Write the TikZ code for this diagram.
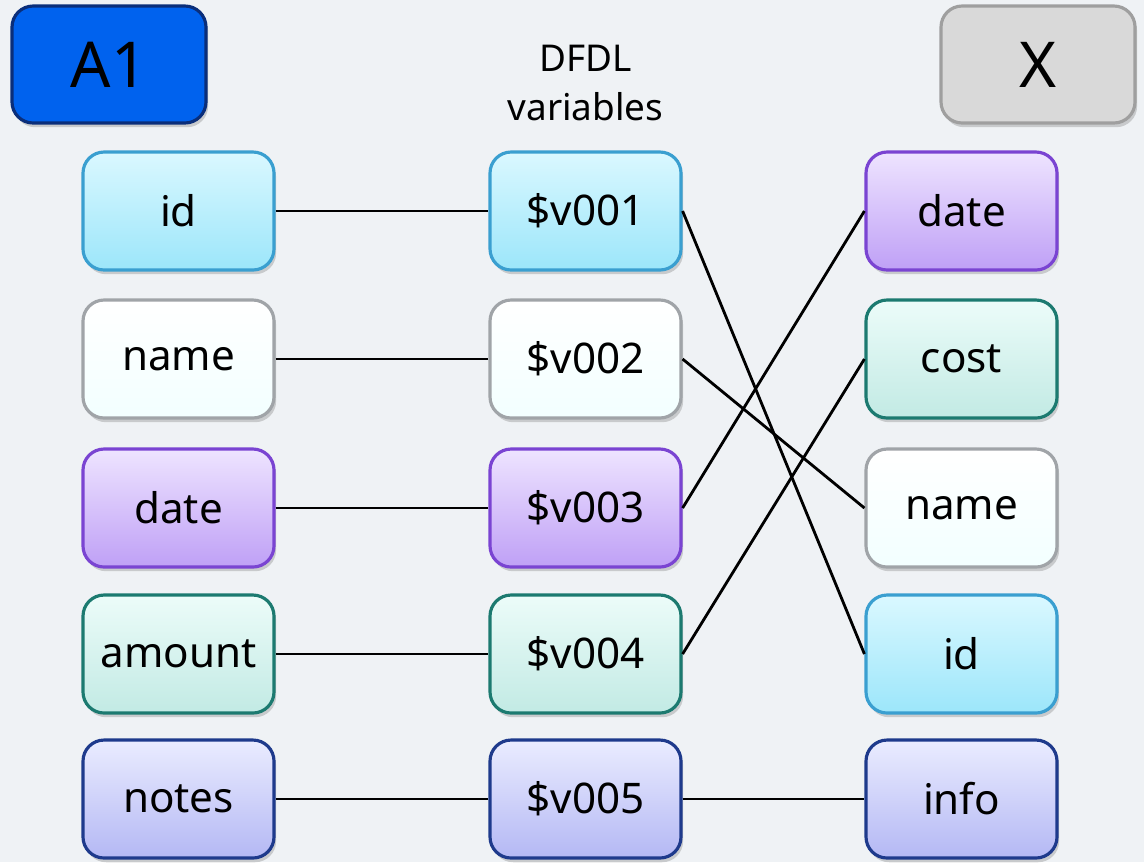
\documentclass[tikz,border=0pt]{standalone}
\usepackage{fontspec}
\setmainfont{Noto Sans}
\usetikzlibrary{shadows}

\definecolor{pagebg}{HTML}{EFF2F5}
\definecolor{cyanline}{HTML}{3A9FD0}
\definecolor{cyantop}{HTML}{DAF8FF}
\definecolor{cyanbot}{HTML}{9CE6FA}
\definecolor{purpline}{HTML}{7A44D2}
\definecolor{purptop}{HTML}{EEE4FF}
\definecolor{purpbot}{HTML}{BFA0F6}
\definecolor{tealline}{HTML}{1C7A70}
\definecolor{tealtop}{HTML}{ECFCF9}
\definecolor{tealbot}{HTML}{C2EAE4}
\definecolor{navyline}{HTML}{1E3A8C}
\definecolor{navytop}{HTML}{EAECFF}
\definecolor{navybot}{HTML}{B4B8F4}
\definecolor{greyline}{HTML}{A0A4A8}
\definecolor{tagblue}{HTML}{0062EE}
\definecolor{tagbline}{HTML}{0A2E7A}

\tikzset{
  field/.style={rounded corners=6pt, minimum width=1.91cm, minimum height=1.18cm,
    line width=0.9pt, font=\fontsize{12}{14}\selectfont,
    drop shadow={shadow xshift=0.6pt, shadow yshift=-1.2pt, opacity=0.35}},
  cyanbox/.style={field, draw=cyanline, top color=cyantop, bottom color=cyanbot},
  whitebox/.style={field, draw=greyline, top color=white, bottom color=cyan!5!white},
  purpbox/.style={field, draw=purpline, top color=purptop, bottom color=purpbot},
  tealbox/.style={field, draw=tealline, top color=tealtop, bottom color=tealbot},
  navybox/.style={field, draw=navyline, top color=navytop, bottom color=navybot},
  tagbox/.style={rounded corners=6pt, minimum width=1.94cm, minimum height=1.17cm,
    line width=0.9pt, font=\fontsize{18}{20}\selectfont,
    drop shadow={shadow xshift=0.6pt, shadow yshift=-1.2pt, opacity=0.35}},
  link/.style={line width=0.8pt}
}

\begin{document}
\begin{tikzpicture}
  \fill[pagebg] (0, 0) rectangle (11.44, -8.62);
  \useasboundingbox (0, 0) rectangle (11.44, -8.62);

  % headings
  \node[tagbox, draw=tagbline, fill=tagblue] (a1) at (1.09, -0.645) {A1};
  \node[tagbox, draw=gray!75, fill=gray!30] (x) at (10.38, -0.645) {X};
  \node[align=center, font=\fontsize{10.5}{14}\selectfont] (dfdl) at (5.855, -0.83) {DFDL\\variables};

  % source fields
  \node[cyanbox] (sid) at (1.785, -2.11) {id};
  \node[whitebox] (sname) at (1.785, -3.59) {name};
  \node[purpbox] (sdate) at (1.785, -5.08) {date};
  \node[tealbox] (samount) at (1.785, -6.54) {amount};
  \node[navybox] (snotes) at (1.785, -7.99) {notes};

  % variables
  \node[cyanbox] (v1) at (5.855, -2.11) {\$v001};
  \node[whitebox] (v2) at (5.855, -3.59) {\$v002};
  \node[purpbox] (v3) at (5.855, -5.08) {\$v003};
  \node[tealbox] (v4) at (5.855, -6.54) {\$v004};
  \node[navybox] (v5) at (5.855, -7.99) {\$v005};

  % target fields
  \node[purpbox] (tdate) at (9.615, -2.11) {date};
  \node[tealbox] (tcost) at (9.615, -3.59) {cost};
  \node[whitebox] (tname) at (9.615, -5.08) {name};
  \node[cyanbox] (tid) at (9.615, -6.54) {id};
  \node[navybox] (tinfo) at (9.615, -7.99) {info};

  \draw[link] (sid.east) -- (v1.west);
  \draw[link] (sname.east) -- (v2.west);
  \draw[link] (sdate.east) -- (v3.west);
  \draw[link] (samount.east) -- (v4.west);
  \draw[link] (snotes.east) -- (v5.west);

  \draw[link] (v1.east) -- (tid.west);
  \draw[link] (v2.east) -- (tname.west);
  \draw[link] (v3.east) -- (tdate.west);
  \draw[link] (v4.east) -- (tcost.west);
  \draw[link] (v5.east) -- (tinfo.west);
\end{tikzpicture}
\end{document}
